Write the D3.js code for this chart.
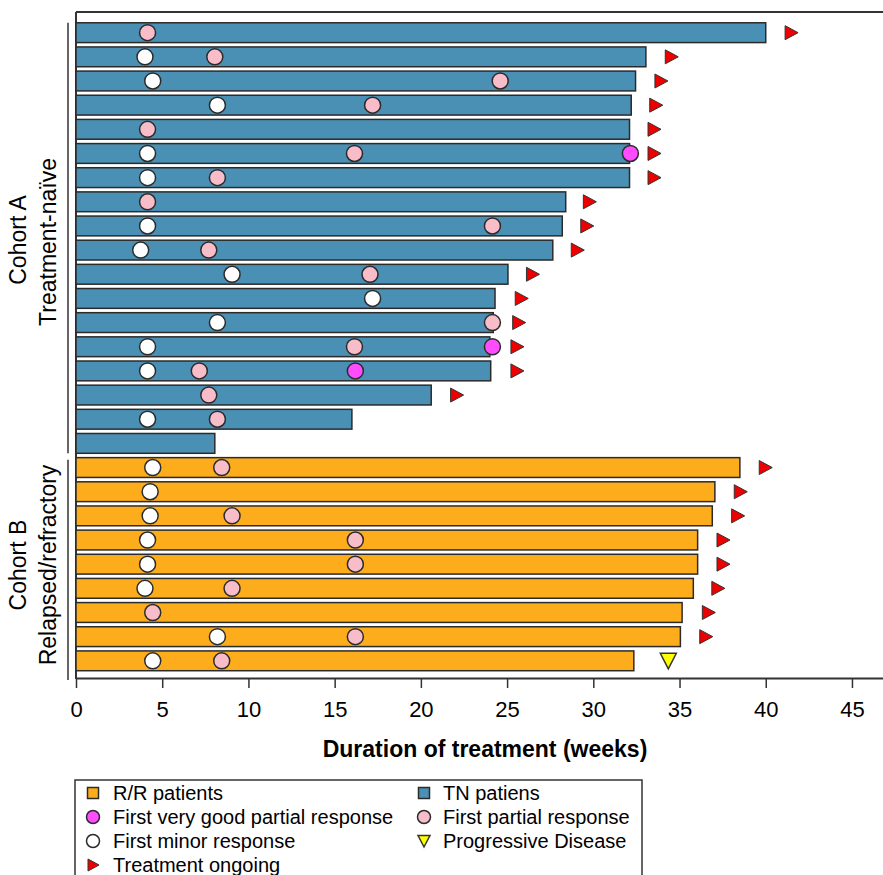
<!DOCTYPE html>
<html>
<head>
<meta charset="utf-8">
<script src="https://cdn.jsdelivr.net/npm/d3@7"></script>
<style>
  body { margin: 0; background: #fff; }
  text { font-family: "Liberation Sans", Arial, sans-serif; fill: #000; }
</style>
</head>
<body>
<script>
'use strict';

// cohort A: treatment-naive patients (weeks), top to bottom
const tnDuration = [40.0, 33.05, 32.45, 32.2, 32.1, 32.1, 32.1, 28.4, 28.2, 27.65, 25.05, 24.3, 24.2, 24.0, 24.05, 20.6, 16.0, 8.05];
const tnOngoing  = [41.5, 34.55, 33.95, 33.65, 33.55, 33.55, 33.55, 29.8, 29.65, 29.1, 26.5, 25.85, 25.7, 25.6, 25.6, 22.1, null, null];
const tnMinor    = [null, 4.0, 4.45, 8.2, null, 4.15, 4.15, null, 4.15, 3.75, 9.05, 17.2, 8.2, 4.15, 4.15, null, 4.15, null];
const tnPartial  = [4.15, 8.05, 24.6, 17.2, 4.15, 16.15, 8.2, 4.15, 24.15, 7.7, 17.05, null, 24.15, 16.15, 7.15, 7.7, 8.2, null];
const tnVgpr     = [null, null, null, null, null, 32.15, null, null, null, null, null, null, null, 24.15, 16.2, null, null, null];

// cohort B: relapsed/refractory patients (weeks), top to bottom
const rrDuration = [38.5, 37.05, 36.9, 36.05, 36.05, 35.8, 35.15, 35.05, 32.35];
const rrOngoing  = [40.0, 38.55, 38.4, 37.55, 37.55, 37.25, 36.7, 36.55, null];
const rrMinor    = [4.45, 4.3, 4.3, 4.15, 4.15, 4.0, null, 8.2, 4.45];
const rrPartial  = [8.45, null, 9.05, 16.2, 16.2, 9.05, 4.45, 16.2, 8.45];
const rrProgress = [null, null, null, null, null, null, null, null, 34.35];

const xTicks = [0, 5, 10, 15, 20, 25, 30, 35, 40, 45];

const legendLabels = ["R/R patients", "TN patiens", "First very good partial response", "First partial response",
  "First minor response", "Progressive Disease", "Treatment ongoing"];
const legendSymbols = ["rr", "tn", "vgpr", "partial", "minor", "progress", "ongoing"];

(function() {

  let svgContainer = "";
  let rows = [];

  const colors = {
    tn: "#4a8fb4",
    rr: "#fdad1c",
    vgpr: "#ff4cff",
    partial: "#f9bdca",
    minor: "#ffffff",
    ongoing: "#ee0000",
    progress: "#ffff00",
    stroke: "#2b2b2b"
  };

  window.onload = function() {
    svgContainer = d3.select('body')
      .append('svg')
      .attr('width', 883)
      .attr('height', 875);

    // one row per patient, TN first then R/R
    tnDuration.forEach((d, i) => rows.push({
      id: "A" + i, cohort: "tn", end: d, ongoing: tnOngoing[i],
      minor: tnMinor[i], partial: tnPartial[i], vgpr: tnVgpr[i], progress: null
    }));
    rrDuration.forEach((d, i) => rows.push({
      id: "B" + i, cohort: "rr", end: d, ongoing: rrOngoing[i],
      minor: rrMinor[i], partial: rrPartial[i], vgpr: null, progress: rrProgress[i]
    }));

    let map = drawAxes();
    plotData(map);
    makeLabels(map);
    makeLegend();
  }

  // axes, frame lines and scales
  function drawAxes() {
    let xScale = d3.scaleLinear()
      .domain([0, 46.8])
      .range([76, 883]);

    let yScale = d3.scaleBand()
      .domain(rows.map((d) => d.id))
      .range([20.6, 672.9])
      .paddingInner(0.18)
      .paddingOuter(0.09);

    let xAxis = d3.axisBottom(xScale)
      .tickValues(xTicks)
      .tickSize(10)
      .tickSizeOuter(0)
      .tickPadding(13);

    let g = svgContainer.append('g')
      .attr('transform', 'translate(0, 678)')
      .call(xAxis);
    g.select('.domain').attr('stroke', '#333').attr('stroke-width', 2);
    g.selectAll('.tick line').attr('stroke', '#333').attr('stroke-width', 1.5);
    g.selectAll('.tick text')
      .style('font-size', '22px')
      .style('font-family', '"Liberation Sans", Arial, sans-serif')
      .attr('fill', '#000');

    // top and left frame
    svgContainer.append('line')
      .attr('x1', 76).attr('x2', 883)
      .attr('y1', 12).attr('y2', 12)
      .attr('stroke', '#333').attr('stroke-width', 2);
    svgContainer.append('line')
      .attr('x1', 76).attr('x2', 76)
      .attr('y1', 12).attr('y2', 679)
      .attr('stroke', '#333').attr('stroke-width', 2);

    return { x: xScale, y: yScale };
  }

  // bars and response markers
  function plotData(map) {
    let x = map.x;
    let y = map.y;
    let mid = (d) => y(d.id) + y.bandwidth() / 2;

    svgContainer.selectAll('.bar')
      .data(rows)
      .enter()
      .append('rect')
        .attr('class', 'bar')
        .attr('x', x(0))
        .attr('y', (d) => y(d.id))
        .attr('width', (d) => x(d.end) - x(0))
        .attr('height', y.bandwidth())
        .attr('fill', (d) => colors[d.cohort])
        .attr('stroke', colors.stroke)
        .attr('stroke-width', 1.5);

    // circles for each response type
    ["minor", "partial", "vgpr"].forEach((key) => {
      svgContainer.selectAll('.dot-' + key)
        .data(rows.filter((d) => d[key] !== null))
        .enter()
        .append('circle')
          .attr('class', 'dot-' + key)
          .attr('cx', (d) => x(d[key]))
          .attr('cy', mid)
          .attr('r', 8)
          .attr('fill', colors[key])
          .attr('stroke', colors.stroke)
          .attr('stroke-width', 1.5);
    });

    // treatment ongoing arrows
    svgContainer.selectAll('.ongoing')
      .data(rows.filter((d) => d.ongoing !== null))
      .enter()
      .append('path')
        .attr('class', 'ongoing')
        .attr('d', 'M-6.5,-7L6.5,0L-6.5,7Z')
        .attr('transform', (d) => 'translate(' + x(d.ongoing) + ',' + mid(d) + ')')
        .attr('fill', colors.ongoing)
        .attr('stroke', '#333')
        .attr('stroke-width', 1);

    // progressive disease
    svgContainer.selectAll('.progress')
      .data(rows.filter((d) => d.progress !== null))
      .enter()
      .append('path')
        .attr('class', 'progress')
        .attr('d', 'M-8,-7.5L8,-7.5L0,8Z')
        .attr('transform', (d) => 'translate(' + x(d.progress) + ',' + mid(d) + ')')
        .attr('fill', colors.progress)
        .attr('stroke', '#333')
        .attr('stroke-width', 1.5);
  }

  // axis title and cohort labels with their brackets
  function makeLabels(map) {
    let y = map.y;
    let aTop = y("A0");
    let aBottom = y("A" + (tnDuration.length - 1)) + y.bandwidth();
    let bTop = y("B0") + 2;

    svgContainer.append('line')
      .attr('x1', 68).attr('x2', 68)
      .attr('y1', aTop).attr('y2', aBottom)
      .attr('stroke', '#333').attr('stroke-width', 1.5);
    svgContainer.append('line')
      .attr('x1', 68).attr('x2', 68)
      .attr('y1', bTop).attr('y2', 680)
      .attr('stroke', '#333').attr('stroke-width', 1.5);

    svgContainer.append('text')
      .attr('x', 485)
      .attr('y', 757)
      .attr('text-anchor', 'middle')
      .style('font-size', '23px')
      .style('font-weight', 'bold')
      .text('Duration of treatment (weeks)');

    let cohortText = [
      { t: "Cohort A", x: 26, y: 240 },
      { t: "Treatment-na\u00efve", x: 56, y: 242 },
      { t: "Cohort B", x: 26, y: 565 },
      { t: "Relapsed/refractory", x: 56, y: 565 }
    ];
    cohortText.forEach((c) => {
      svgContainer.append('text')
        .attr('transform', 'translate(' + c.x + ',' + c.y + ')rotate(-90)')
        .attr('text-anchor', 'middle')
        .style('font-size', '23px')
        .text(c.t);
    });
  }

  // legend box below the chart
  function makeLegend() {
    let legend = svgContainer.append('g');
    legend.append('rect')
      .attr('x', 75).attr('y', 780)
      .attr('width', 567).attr('height', 120)
      .attr('fill', 'none')
      .attr('stroke', '#333').attr('stroke-width', 1.5);

    legendLabels.forEach((label, i) => {
      let col = i % 2;
      let row = Math.floor(i / 2);
      let mx = col === 0 ? 93 : 424;
      let tx = col === 0 ? 113 : 443;
      let my = 793 + row * 24;
      let sym = legendSymbols[i];

      if (sym === "rr" || sym === "tn") {
        legend.append('rect')
          .attr('x', mx - 5.5).attr('y', my - 5.5)
          .attr('width', 11).attr('height', 11)
          .attr('fill', colors[sym])
          .attr('stroke', colors.stroke).attr('stroke-width', 1.5);
      } else if (sym === "ongoing") {
        legend.append('path')
          .attr('d', 'M-5,-6L6,0L-5,6Z')
          .attr('transform', 'translate(' + mx + ',' + my + ')')
          .attr('fill', colors.ongoing)
          .attr('stroke', '#333').attr('stroke-width', 1);
      } else if (sym === "progress") {
        legend.append('path')
          .attr('d', 'M-6,-5.5L6,-5.5L0,6Z')
          .attr('transform', 'translate(' + mx + ',' + my + ')')
          .attr('fill', colors.progress)
          .attr('stroke', '#333').attr('stroke-width', 1.5);
      } else {
        legend.append('circle')
          .attr('cx', mx).attr('cy', my)
          .attr('r', 6.5)
          .attr('fill', colors[sym])
          .attr('stroke', colors.stroke).attr('stroke-width', 1.5);
      }

      legend.append('text')
        .attr('x', tx)
        .attr('y', my + 7)
        .style('font-size', '20px')
        .text(label);
    });
  }

})();
</script>
</body>
</html>
